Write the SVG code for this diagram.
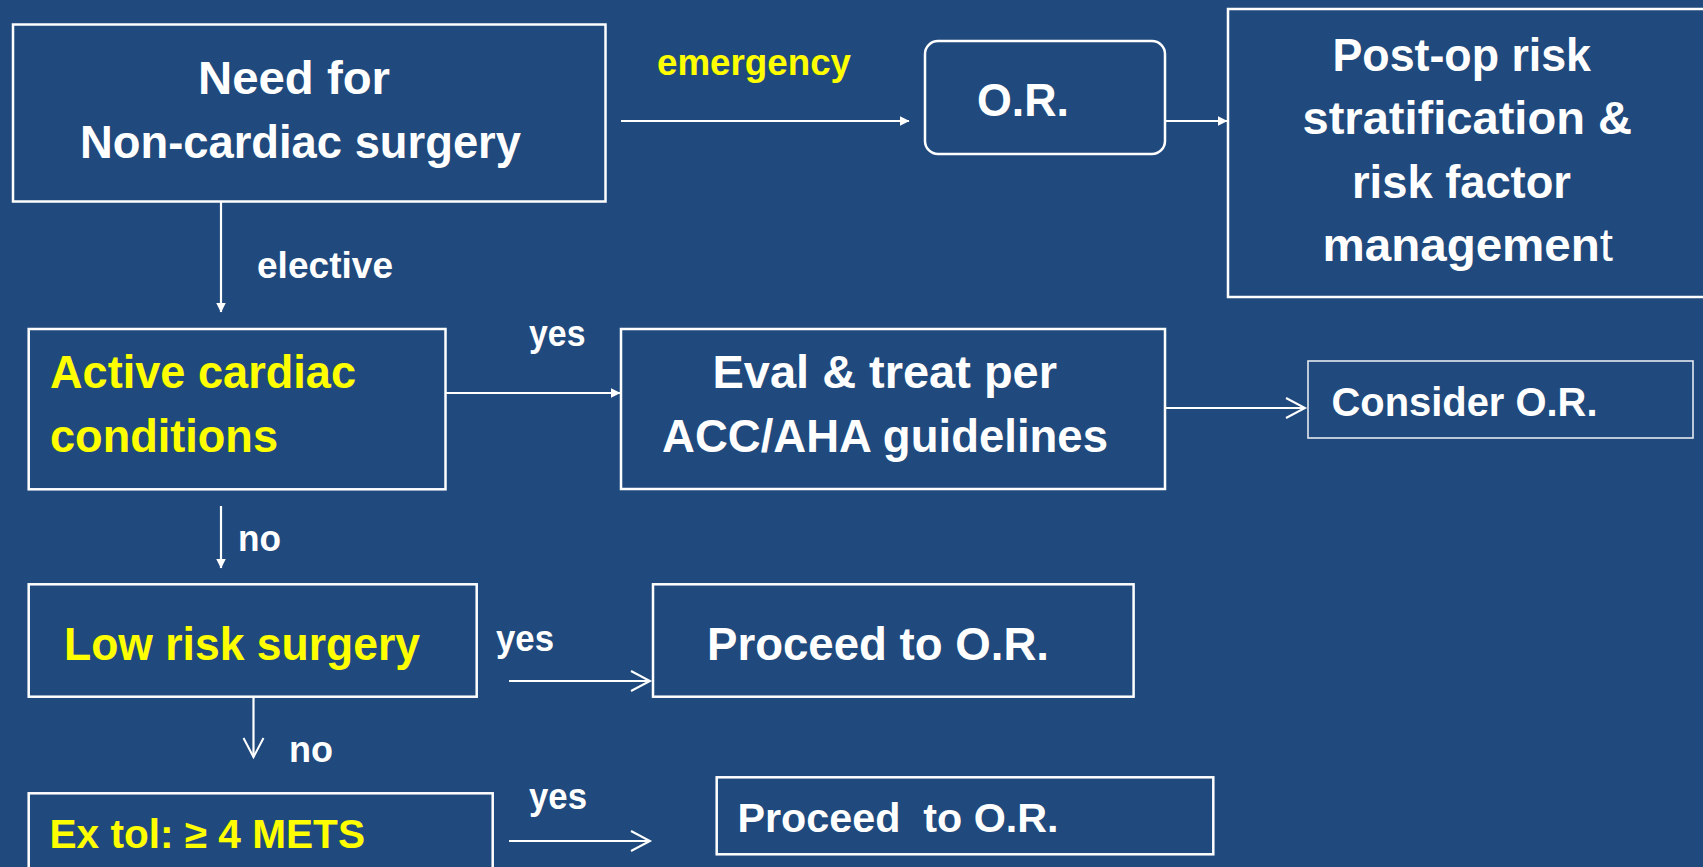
<svg xmlns="http://www.w3.org/2000/svg" width="1703" height="867" viewBox="0 0 1703 867">
<style>
.box{fill:#204A7D;stroke:#FFFFFF;stroke-width:2.5}
.thin{fill:#204A7D;stroke:#E4E9F0;stroke-width:1.6}
.t{font-family:"Liberation Sans",Arial,sans-serif;font-weight:bold;fill:#FFFFFF}
.y{fill:#FFFF00}
.big{font-size:46px}
.lbl{font-size:36px}
.conn line{stroke:#FFFFFF;stroke-width:2.2;fill:none}
</style>
<defs>
<marker id="fa" viewBox="0 0 10 10" refX="9.5" refY="5" markerWidth="10" markerHeight="10" markerUnits="userSpaceOnUse" orient="auto">
<path d="M0,0 L10,5 L0,10 z" fill="#FFFFFF"/>
</marker>
<marker id="oa" viewBox="0 0 22 22" refX="20" refY="11" markerWidth="22" markerHeight="22" markerUnits="userSpaceOnUse" orient="auto" overflow="visible">
<path d="M1,1 L20,11 L1,21" fill="none" stroke="#FFFFFF" stroke-width="2"/>
</marker>
</defs>
<rect width="1703" height="867" fill="#204A7D"/>

<g id="connectors" class="conn">
<line x1="621" y1="121" x2="909" y2="121" marker-end="url(#fa)"/>
<line x1="1149" y1="121" x2="1227" y2="121" marker-end="url(#fa)"/>
<line x1="221" y1="201" x2="221" y2="312" marker-end="url(#fa)"/>
<line x1="445.5" y1="393" x2="620" y2="393" marker-end="url(#fa)"/>
<line x1="221" y1="506" x2="221" y2="568" marker-end="url(#fa)"/>
<line x1="1165" y1="408" x2="1305" y2="408" marker-end="url(#oa)"/>
<line x1="509" y1="681" x2="650" y2="681" marker-end="url(#oa)"/>
<line x1="253.5" y1="697" x2="253.5" y2="757" marker-end="url(#oa)"/>
<line x1="509" y1="841" x2="650" y2="841" marker-end="url(#oa)"/>
</g>

<g id="labels">
<text class="t y" x="657" y="75" font-size="37" textLength="194" lengthAdjust="spacingAndGlyphs">emergency</text>
<text class="t lbl" x="257" y="278" textLength="136" lengthAdjust="spacingAndGlyphs">elective</text>
<text class="t lbl" x="529" y="346" textLength="56.5" lengthAdjust="spacingAndGlyphs">yes</text>
<text class="t lbl" x="238" y="551" textLength="43" lengthAdjust="spacingAndGlyphs">no</text>
<text class="t lbl" x="496" y="651" textLength="58" lengthAdjust="spacingAndGlyphs">yes</text>
<text class="t lbl" x="289" y="762" textLength="44" lengthAdjust="spacingAndGlyphs">no</text>
<text class="t lbl" x="529" y="809" textLength="58" lengthAdjust="spacingAndGlyphs">yes</text>
</g>

<g id="need">
<rect class="box" x="13" y="24.5" width="592.5" height="177"/>
<text class="t big" x="198" y="94" textLength="192" lengthAdjust="spacingAndGlyphs">Need for</text>
<text class="t big" x="80" y="158" textLength="441" lengthAdjust="spacingAndGlyphs">Non-cardiac surgery</text>
</g>

<g id="or">
<rect class="box" x="925" y="41" width="240" height="113" rx="13"/>
<text class="t big" x="977" y="116" textLength="92" lengthAdjust="spacingAndGlyphs">O.R.</text>
</g>

<g id="postop">
<rect class="box" x="1228" y="9" width="500" height="288"/>
<text class="t big" x="1332.5" y="71" textLength="258.5" lengthAdjust="spacingAndGlyphs">Post-op risk</text>
<text class="t big" x="1302.5" y="134" textLength="329.5" lengthAdjust="spacingAndGlyphs">stratification &amp;</text>
<text class="t big" x="1352" y="198" textLength="219" lengthAdjust="spacingAndGlyphs">risk factor</text>
<text class="t big" x="1322.5" y="261" textLength="290.5" lengthAdjust="spacingAndGlyphs">managemen<tspan font-weight="normal">t</tspan></text>
</g>

<g id="active">
<rect class="box" x="28.7" y="329" width="416.8" height="160.3"/>
<text class="t big y" x="50" y="388" textLength="306" lengthAdjust="spacingAndGlyphs">Active cardiac</text>
<text class="t big y" x="50" y="452" textLength="228" lengthAdjust="spacingAndGlyphs">conditions</text>
</g>

<g id="eval">
<rect class="box" x="621" y="329" width="544" height="160"/>
<text class="t big" x="712.5" y="388" textLength="344.5" lengthAdjust="spacingAndGlyphs">Eval &amp; treat per</text>
<text class="t big" x="662" y="452" textLength="446" lengthAdjust="spacingAndGlyphs">ACC/AHA guidelines</text>
</g>

<g id="consider">
<rect class="thin" x="1308" y="361" width="385" height="77"/>
<text class="t" x="1331.5" y="416" font-size="41" textLength="266" lengthAdjust="spacingAndGlyphs">Consider O.R.</text>
</g>

<g id="lowrisk">
<rect class="box" x="28.7" y="584.3" width="448" height="112.4"/>
<text class="t big y" x="64" y="660" textLength="356" lengthAdjust="spacingAndGlyphs">Low risk surgery</text>
</g>

<g id="proceed1">
<rect class="box" x="653" y="584.3" width="480.6" height="112.4"/>
<text class="t big" x="707" y="660" textLength="342" lengthAdjust="spacingAndGlyphs">Proceed to O.R.</text>
</g>

<g id="extol">
<rect class="box" x="28.7" y="793.3" width="464" height="100"/>
<text class="t y" x="49.5" y="848" font-size="40" textLength="315.5" lengthAdjust="spacingAndGlyphs">Ex tol: ≥ 4 METS</text>
</g>

<g id="proceed2">
<rect class="box" x="716.7" y="777.3" width="496.6" height="77"/>
<text class="t" x="737.5" y="832" font-size="40" xml:space="preserve" textLength="321" lengthAdjust="spacingAndGlyphs">Proceed  to O.R.</text>
</g>
</svg>
